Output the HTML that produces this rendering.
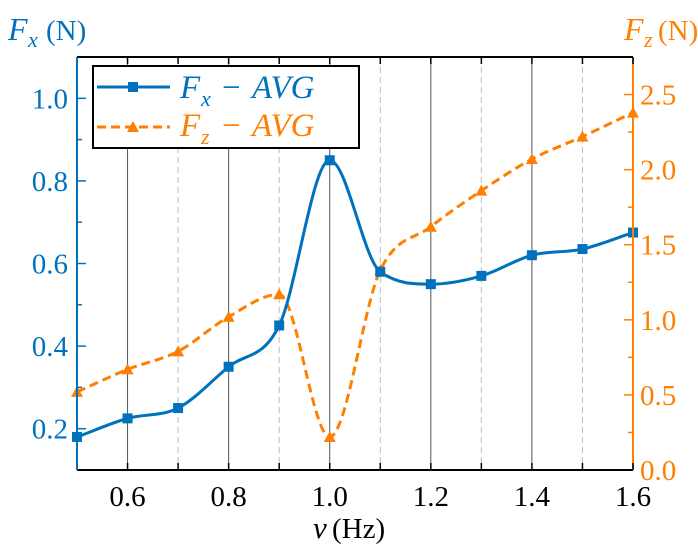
<!DOCTYPE html>
<html><head><meta charset="utf-8"><style>
body{margin:0;background:#fff;}
svg{display:block;}
text{font-family:"Liberation Serif","DejaVu Serif",serif;}
</style></head><body>
<svg id="c" style="position:absolute;left:0;top:0" width="698" height="547" viewBox="0 0 698 547"></svg>
<script>
const categories=[0.5,0.6,0.7,0.8,0.9,1.0,1.1,1.2,1.3,1.4,1.5,1.6];
const fxValues=[0.18,0.225,0.25,0.35,0.45,0.85,0.58,0.55,0.57,0.62,0.635,0.675];
const fzValues=[0.52,0.67,0.79,1.02,1.17,0.22,1.33,1.62,1.86,2.07,2.22,2.38];
const xTicks=[0.6,0.8,1.0,1.2,1.4,1.6];
const xMinor=[0.7,0.9,1.1,1.3,1.5];
const yLeftTicks=[0.2,0.4,0.6,0.8,1.0];
const yRightTicks=[0.0,0.5,1.0,1.5,2.0,2.5];

const L=77,R=633,T=57,B=470;
const BLUE="#0072bd",ORANGE="#ff8000";
const X=v=>L+(v-0.5)/(1.1)*(R-L);
const YL=v=>B-(v-0.1)/1.0*(B-T);
const YR=v=>B-v/2.75*(B-T);
const svg=document.getElementById('c');
const NS="http://www.w3.org/2000/svg";
function mk(tag,attrs,parent){const e=document.createElementNS(NS,tag);for(const k in attrs)e.setAttribute(k,attrs[k]);(parent||svg).appendChild(e);return e;}

xTicks.forEach(v=>{if(v<1.6){const g=mk('line',{x1:X(v),x2:X(v),y1:T,y2:B,stroke:'#555','stroke-width':1});

}});
xMinor.forEach(v=>{const g=mk('line',{x1:X(v),x2:X(v),y1:T,y2:B,stroke:'#bbb','stroke-width':1,'stroke-dasharray':'6,4'});

});

// monotone cubic (Fritsch-Carlson)
function monotone(pts){const n=pts.length;const d=[],m=[];
for(let i=0;i<n-1;i++)d.push((pts[i+1][1]-pts[i][1])/(pts[i+1][0]-pts[i][0]));
m[0]=d[0];m[n-1]=d[n-2];
for(let i=1;i<n-1;i++){m[i]=(d[i-1]*d[i]<=0)?0:(d[i-1]+d[i])/2;}
for(let i=0;i<n-1;i++){if(d[i]===0){m[i]=0;m[i+1]=0;continue;}const a=m[i]/d[i],b=m[i+1]/d[i],s=a*a+b*b;if(s>9){const t=3/Math.sqrt(s);m[i]=t*a*d[i];m[i+1]=t*b*d[i];}}
let p=`M${pts[0][0]},${pts[0][1]}`;
for(let i=0;i<n-1;i++){const h=(pts[i+1][0]-pts[i][0])/3;
p+=` C${pts[i][0]+h},${pts[i][1]+m[i]*h} ${pts[i+1][0]-h},${pts[i+1][1]-m[i+1]*h} ${pts[i+1][0]},${pts[i+1][1]}`;}return p;}

const clip=mk('clipPath',{id:'clp'});mk('rect',{x:L,y:T,width:R-L,height:B-T},clip);
const fzPts=categories.map((c,i)=>[X(c),YR(fzValues[i])]);
const fxPts=categories.map((c,i)=>[X(c),YL(fxValues[i])]);
const fzLine=mk('path',{d:monotone(fzPts),fill:'none',stroke:ORANGE,'stroke-width':3,'stroke-dasharray':'9,5','clip-path':'url(#clp)'});


const fxLine=mk('path',{d:monotone(fxPts),fill:'none',stroke:BLUE,'stroke-width':3,'clip-path':'url(#clp)'});


fzPts.forEach(p=>{const m=mk('polygon',{points:`${p[0]},${p[1]-6} ${p[0]-6},${p[1]+5} ${p[0]+6},${p[1]+5}`,fill:ORANGE});

});
fxPts.forEach(p=>{const m=mk('rect',{x:p[0]-5,y:p[1]-5,width:10,height:10,fill:BLUE});

});

mk('line',{x1:L,x2:R,y1:T,y2:T,stroke:'#000','stroke-width':2});
mk('line',{x1:L,x2:R,y1:B,y2:B,stroke:'#000','stroke-width':2});
mk('line',{x1:L,x2:L,y1:T,y2:B,stroke:BLUE,'stroke-width':2});
mk('line',{x1:R,x2:R,y1:T,y2:B,stroke:ORANGE,'stroke-width':2});

[...xTicks,...xMinor].forEach(v=>{mk('line',{x1:X(v),x2:X(v),y1:B,y2:B-7,stroke:'#000','stroke-width':1.5});mk('line',{x1:X(v),x2:X(v),y1:T,y2:T+7,stroke:'#000','stroke-width':1.5});});
xTicks.forEach(v=>{const t=mk('text',{x:X(v),y:B+36,'text-anchor':'middle','font-size':29,fill:'#000'});t.textContent=v.toFixed(1);

});
for(let v=0.2;v<=1.01;v+=0.1){const major=Math.round(v*10)%2===0;mk('line',{x1:L,x2:L+(major?9:5),y1:YL(v),y2:YL(v),stroke:BLUE,'stroke-width':1.5});}
yLeftTicks.forEach(v=>{const t=mk('text',{x:L-9,y:YL(v)+10,'text-anchor':'end','font-size':29,fill:BLUE});t.textContent=v.toFixed(1);

});
for(let v=0.25;v<=2.51;v+=0.25){const major=Math.round(v*100)%50===0;mk('line',{x1:R,x2:R-(major?9:5),y1:YR(v),y2:YR(v),stroke:ORANGE,'stroke-width':1.5});}
yRightTicks.forEach(v=>{const t=mk('text',{x:R+7,y:YR(v)+10,'font-size':29,fill:ORANGE});t.textContent=v.toFixed(1);

});
</script>
<svg style="position:absolute;left:0;top:0" width="698" height="547">
<g fill="#0072bd"><text x="8" y="40" font-size="32" font-style="italic">F</text><text x="28" y="47" font-size="22" font-style="italic">x</text><text x="46" y="40" font-size="29">(N)</text></g>
<g fill="#ff8000"><text x="624" y="40" font-size="32" font-style="italic">F</text><text x="644" y="47" font-size="22" font-style="italic">z</text><text x="658" y="40" font-size="29">(N)</text></g>
<g><text x="313" y="538" font-size="31" font-style="italic">v</text><text x="332" y="538" font-size="29">(Hz)</text></g>
<g>
<rect x="93" y="66" width="266" height="82" fill="#fff" stroke="#000" stroke-width="2"/>
<g><line x1="97" x2="170" y1="87" y2="87" stroke="#0072bd" stroke-width="3"/><rect x="128" y="82" width="10" height="10" fill="#0072bd"/>
<text x="180" y="98" font-size="33" font-style="italic" fill="#0072bd">F</text><text x="201" y="106" font-size="22" font-style="italic" fill="#0072bd">x</text><text x="222" y="98" font-size="33" fill="#0072bd">−</text><text x="252" y="98" font-size="33" font-style="italic" fill="#0072bd">AVG</text></g>
<g><line x1="97" x2="170" y1="127" y2="127" stroke="#ff8000" stroke-width="3" stroke-dasharray="9,5"/><polygon points="133,121 127,132 139,132" fill="#ff8000"/>
<text x="180" y="136" font-size="33" font-style="italic" fill="#ff8000">F</text><text x="201" y="144" font-size="22" font-style="italic" fill="#ff8000">z</text><text x="222" y="136" font-size="33" fill="#ff8000">−</text><text x="252" y="136" font-size="33" font-style="italic" fill="#ff8000">AVG</text></g>
</g>
</svg>
</body></html>
